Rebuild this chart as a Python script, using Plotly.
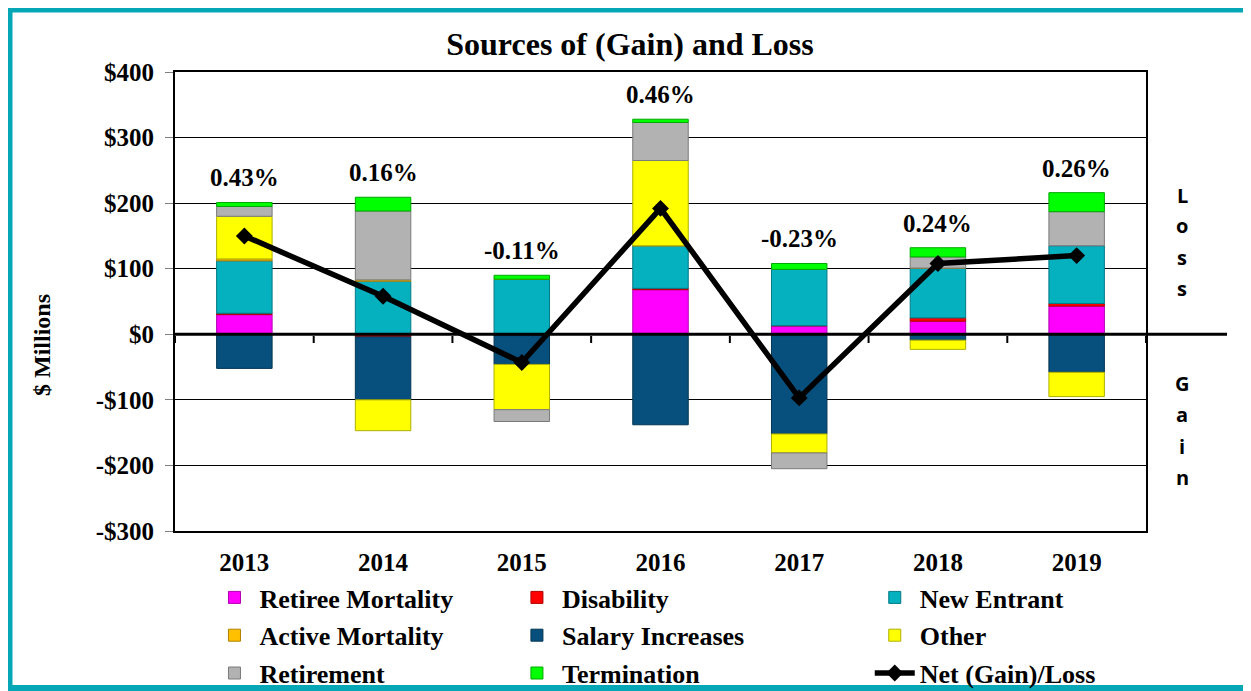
import plotly.graph_objects as go

years = ["2013", "2014", "2015", "2016", "2017", "2018", "2019"]

retiree_mortality = [30, 0, 0, 68, 13, 20, 43]
disability = [2, -4, -2, 2, 0, 5, 4]
new_entrant = [80, 81, 84, 65, 86, 76, 88]
active_mortality = [3, 2, 0, 0, -2, 0, -1]
salary_increases = [-52, -96, -44, -138, -150, -9, -57]
other = [65, -47, -69, 130, -29, -14, -37]
retirement = [15, 105, -18, 58, -24, 17, 52]
termination = [6, 21, 6, 5, 9, 14, 29]
net_gain_loss = [150, 58, -43, 192, -97, 108, 120]
pct_labels = ["0.43%", "0.16%", "-0.11%", "0.46%", "-0.23%", "0.24%", "0.26%"]

y_ticks = [400, 300, 200, 100, 0, -100, -200, -300]
y_tick_text = ["$400", "$300", "$200", "$100", "$0", "-$100", "-$200", "-$300"]

serif = "Liberation Serif, Times New Roman, serif"
sans = "Open Sans, Liberation Sans, sans-serif"

# page body has an 8px margin, so the figure sits 8px in from the window corner
W, H = 1243, 683


def px(sx):
    # window x pixel -> paper x
    return (sx - 175) / 971


def py(sy):
    # window y pixel -> paper y
    return (531 - sy) / 459


fig = go.Figure()

# (name, values, fill, edge, legend)  - trace order gives the stacking order
series = [
    ("Retiree Mortality", retiree_mortality, "#ff00ff", "#b000b0", "legend"),
    ("Disability", disability, "#ff0000", "#b00000", "legend2"),
    ("New Entrant", new_entrant, "#05b0bf", "#037a85", "legend3"),
    ("Active Mortality", active_mortality, "#ffc000", "#b08000", "legend"),
    ("Salary Increases", salary_increases, "#07507d", "#043552", "legend2"),
    ("Other", other, "#ffff00", "#b0b000", "legend3"),
    ("Retirement", retirement, "#b2b2b2", "#7a7a7a", "legend"),
    ("Termination", termination, "#00ff00", "#00a800", "legend2"),
]

for name, vals, col, edge, lg in series:
    fig.add_trace(go.Bar(
        x=years, y=vals, name=name, legend=lg, legendgroup=name,
        marker=dict(color=col, line=dict(color=edge, width=1)),
        width=0.4, hoverinfo="name+y"))

fig.add_trace(go.Scatter(
    x=years, y=net_gain_loss, name="Net (Gain)/Loss", legend="legend3",
    legendgroup="net", mode="lines+markers",
    line=dict(color="black", width=5.5),
    marker=dict(symbol="diamond", size=13, color="black")))

# percent labels above the positive stack
for i, yr in enumerate(years):
    top = sum(max(s[1][i], 0) for s in series)
    fig.add_annotation(x=i, y=top, text="<b>%s</b>" % pct_labels[i], showarrow=False,
                       xanchor="center", yanchor="bottom", yshift=9,
                       font=dict(family=serif, size=25, color="black"))

# zero line running out to the Loss/Gain labels
fig.add_shape(type="line", xref="paper", yref="y", x0=0, x1=px(1227), y0=0, y1=0,
              line=dict(color="black", width=3), layer="above")
# category tick marks on the zero line
for i in range(len(years) + 1):
    fig.add_shape(type="line", xref="x", yref="paper", x0=i - 0.5, x1=i - 0.5,
                  y0=py(336), y1=py(343),
                  line=dict(color="black", width=2), layer="above")

# Loss / Gain vertical labels
for j, ch in enumerate("Loss"):
    fig.add_annotation(xref="paper", yref="paper", x=px(1182), y=py(195 + 31 * j),
                       xanchor="center", yanchor="middle",
                       text="<b>%s</b>" % ch, showarrow=False,
                       font=dict(family=sans, size=20, color="black"))
for j, ch in enumerate("Gain"):
    fig.add_annotation(xref="paper", yref="paper", x=px(1182), y=py(383 + 31.5 * j),
                       xanchor="center", yanchor="middle",
                       text="<b>%s</b>" % ch, showarrow=False,
                       font=dict(family=sans, size=20, color="black"))

fig.add_annotation(xref="paper", yref="paper", x=px(42), y=py(345),
                   xanchor="center", yanchor="middle",
                   text="<b>$ Millions</b>", textangle=-90, showarrow=False,
                   font=dict(family=serif, size=24, color="black"))

# teal outer frame
fig.add_shape(type="rect", xref="paper", yref="paper",
              x0=px(9.5), x1=px(1248), y0=py(688), y1=py(9.5),
              line=dict(color="#05a6b5", width=6), layer="above")

legend_style = dict(orientation="v", yanchor="top", y=py(574), xanchor="left",
                    font=dict(family=serif, size=26, color="black", weight="bold"),
                    bgcolor="rgba(0,0,0,0)", tracegroupgap=1, itemwidth=40,
                    traceorder="grouped")

fig.update_layout(
    width=W, height=H,
    margin=dict(l=167, r=W - 1138, t=64, b=H - 523, autoexpand=False),
    paper_bgcolor="white", plot_bgcolor="white",
    barmode="relative",
    title=dict(text="<b>Sources of (Gain) and Loss</b>", x=px(630), xref="paper",
               xanchor="center", y=1 - 36 / H, yanchor="middle",
               font=dict(family=serif, size=32, color="black")),
    legend=dict(legend_style, x=0.0355),
    legend2=dict(legend_style, x=0.347),
    legend3=dict(legend_style, x=0.7155),
    showlegend=True,
)

fig.update_xaxes(type="category", showgrid=False, showline=True, linecolor="black",
                 linewidth=2, mirror=True, ticks="", range=[-0.5, 6.5],
                 ticklabelstandoff=8,
                 tickfont=dict(family=serif, size=25, color="black", weight="bold"))
fig.update_yaxes(range=[-300, 400], tickvals=y_ticks, ticktext=y_tick_text,
                 showgrid=True, gridcolor="black", gridwidth=1, zeroline=False,
                 showline=True, linecolor="black", linewidth=2, mirror=True,
                 ticks="outside", ticklen=8, tickcolor="gray", ticklabelstandoff=6,
                 tickfont=dict(family=serif, size=25, color="black", weight="bold"))

fig.write_html("out.html")
